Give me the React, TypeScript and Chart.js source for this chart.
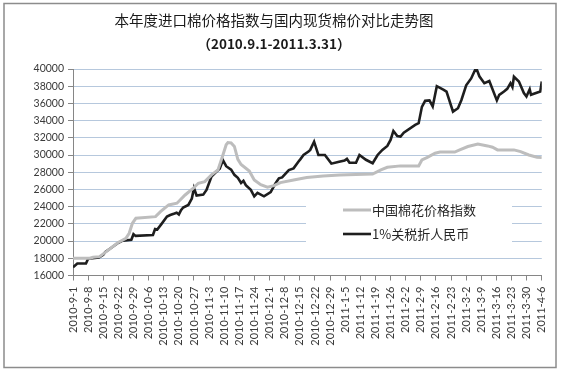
import React, { useEffect, useRef } from "react";
import { Chart, registerables } from "chart.js";

Chart.register(...registerables);

const titleText = "本年度进口棉价格指数与国内现货棉价对比走势图";
const subtitleText = "（2010.9.1-2011.3.31）";

const weekLabels = [
  "2010-9-1", "2010-9-8", "2010-9-15", "2010-9-22", "2010-9-29", "2010-10-6",
  "2010-10-13", "2010-10-20", "2010-10-27", "2010-11-3", "2010-11-10", "2010-11-17",
  "2010-11-24", "2010-12-1", "2010-12-8", "2010-12-15", "2010-12-22", "2010-12-29",
  "2011-1-5", "2011-1-12", "2011-1-19", "2011-1-26", "2011-2-2", "2011-2-9",
  "2011-2-16", "2011-2-23", "2011-3-2", "2011-3-9", "2011-3-16", "2011-3-23",
  "2011-3-30", "2011-4-6",
];

const yTicks = [16000, 18000, 20000, 22000, 24000, 26000, 28000, 30000, 32000, 34000, 36000, 38000, 40000];

// 中国棉花价格指数 (days since 2010-9-1, value)
const indexName = "中国棉花价格指数";
const indexDays = [0, 7.8, 9.3, 12.3, 15.4, 20.7, 24.5, 26, 27.5, 29.1, 38.2, 40.5, 44.3, 48.1, 51.9, 55.7, 58, 61, 64.1, 67.1, 69.4, 70.9, 71.7, 73.2, 74.7, 76.3, 77.8, 81.6, 83.9, 86.9, 90, 93, 96, 102.1, 108.2, 115.8, 123.4, 131, 138.7, 142.5, 145.5, 151.6, 160, 161.5, 163.8, 167.6, 169.9, 176.7, 179, 182.8, 187.4, 191.9, 194.2, 196.5, 204.1, 207.2, 211, 214.8, 217];
const indexValues = [18000, 18000, 18120, 18190, 18770, 19810, 20330, 20910, 22070, 22650, 22840, 23420, 24200, 24400, 25360, 26140, 26720, 26910, 27690, 28270, 30000, 31200, 31450, 31400, 31000, 29500, 28900, 28150, 27100, 26550, 26260, 26450, 26800, 27100, 27400, 27570, 27690, 27750, 27800, 28270, 28580, 28740, 28740, 29430, 29700, 30210, 30350, 30350, 30600, 30990, 31290, 31060, 30910, 30600, 30600, 30400, 30010, 29750, 29700];

// 1%关税折人民币 (days since 2010-9-1, value)
const tariffName = "1%关税折人民币";
const tariffDays = [0, 2, 6, 7, 12, 14, 15, 21, 23, 27, 28, 29, 37, 38, 39, 41, 43.5, 45, 47, 48, 49, 50, 51, 53.4, 55, 56, 57.2, 60.3, 61.8, 64.1, 66.3, 67.9, 69.4, 70.9, 73.2, 74.7, 76.3, 77.8, 78.9, 80, 82.3, 83.9, 85.4, 88.4, 91.5, 93.7, 95.3, 96.8, 99.9, 102.1, 104.4, 105.2, 106.7, 109, 109.8, 111.6, 113.6, 116.6, 119.6, 122.7, 125.7, 126.8, 128, 131, 132.6, 135.6, 138.7, 141, 143.2, 145.5, 147, 148.3, 150.1, 151.6, 153.1, 158.4, 160, 161.5, 163, 165, 166.5, 168.4, 171.4, 172.9, 175.9, 178.2, 179.8, 182, 184.3, 186.6, 188.1, 190.4, 192.7, 196.2, 197.3, 199.5, 201, 202.5, 203.4, 204.1, 206.4, 208.7, 209.9, 211.4, 212, 216.3, 217];
const tariffValues = [16950, 17400, 17400, 17950, 18100, 18400, 18750, 19800, 20050, 20150, 20800, 20600, 20700, 21400, 21350, 22000, 22850, 23030, 23200, 23300, 23100, 23600, 23900, 24200, 24950, 26150, 25300, 25400, 25950, 27500, 28050, 28400, 29400, 28700, 28300, 27700, 27350, 26750, 27000, 26500, 25950, 25200, 25600, 25200, 25700, 26700, 27300, 27400, 28250, 28450, 29250, 29500, 30000, 30400, 30600, 31550, 30000, 30000, 29000, 29200, 29350, 29550, 29100, 29100, 30010, 29450, 29050, 30010, 30600, 31060, 31760, 32800, 32200, 32150, 32600, 33500, 33700, 35600, 36300, 36350, 35650, 38000, 37600, 37380, 35050, 35440, 36400, 38100, 38900, 40150, 39150, 38350, 38600, 36350, 37000, 37380, 37700, 38350, 37900, 39100, 38550, 37200, 36800, 37650, 37000, 37380, 38540];

const W = 561;
const H = 373;

const framePlugin = {
  id: "frame",
  beforeDraw(chart: any) {
    const ctx = chart.ctx;
    ctx.save();
    ctx.fillStyle = "#ffffff";
    ctx.fillRect(0, 0, chart.width, chart.height);
    ctx.strokeStyle = "#8c8c8c";
    ctx.lineWidth = 1.5;
    ctx.strokeRect(4, 3.5, 552, 364);
    ctx.restore();
  },
};

const legendPlugin = {
  id: "innerLegend",
  beforeDatasetsDraw(chart: any) {
    const ctx = chart.ctx;
    const a = chart.chartArea;
    ctx.save();
    ctx.fillStyle = "#ffffff";
    ctx.fillRect(a.left + 233, 195, 206, 57);
    const rows = [210, 234];
    chart.data.datasets.forEach((ds: any, i: number) => {
      const y = rows[i];
      ctx.strokeStyle = ds.borderColor;
      ctx.lineWidth = ds.borderWidth;
      ctx.beginPath();
      ctx.moveTo(a.left + 270, y);
      ctx.lineTo(a.left + 298, y);
      ctx.stroke();
      ctx.fillStyle = "#262626";
      ctx.font = '13px "Noto Sans CJK SC"';
      ctx.textBaseline = "middle";
      ctx.textAlign = "left";
      ctx.fillText(ds.label, a.left + 299, y);
    });
    ctx.restore();
  },
};

export default function App() {
  const ref = useRef<HTMLCanvasElement | null>(null);

  useEffect(() => {
    if (!ref.current) return;
    const chart = new Chart(ref.current, {
      type: "line",
      data: {
        datasets: [
          {
            label: indexName,
            data: indexDays.map((d, i) => ({ x: d, y: indexValues[i] })),
            borderColor: "#bdbdbd",
            borderWidth: 3,
            pointRadius: 0,
            tension: 0,
          },
          {
            label: tariffName,
            data: tariffDays.map((d, i) => ({ x: d, y: tariffValues[i] })),
            borderColor: "#1e1e1e",
            borderWidth: 2.6,
            pointRadius: 0,
            tension: 0,
          },
        ],
      },
      options: {
        responsive: false,
        animation: false,
        devicePixelRatio: 1,
        layout: { padding: { left: 0, right: 13, top: 0, bottom: 0 } },
        plugins: {
          legend: { display: false },
          tooltip: { enabled: false },
          title: {
            display: true,
            text: titleText,
            color: "#1a1a1a",
            font: { family: '"Noto Sans CJK SC"', size: 14.5, weight: "normal", lineHeight: 1.2 },
            padding: { top: 12, bottom: 4 },
          },
          subtitle: {
            display: true,
            text: subtitleText,
            color: "#1a1a1a",
            font: { family: '"Noto Sans CJK SC"', size: 13.5, weight: "bold", lineHeight: 1.2 },
            padding: { top: 2.6, bottom: 16.8 },
          },
        },
        scales: {
          x: {
            type: "linear",
            min: 0,
            max: 217,
            afterFit(scale: any) {
              scale.height = H - 275.5;
            },
            ticks: {
              stepSize: 7,
              autoSkip: false,
              maxRotation: 90,
              minRotation: 90,
              padding: 6,
              color: "#3a3a3a",
              font: { family: "Lato", size: 11 },
              callback: (v: any) => weekLabels[Math.round(Number(v) / 7)] ?? "",
            },
            grid: {
              display: true,
              drawOnChartArea: false,
              drawTicks: true,
              tickLength: 5,
              color: "#868686",
            },
            border: { display: true, color: "#868686", width: 1 },
          },
          y: {
            type: "linear",
            min: yTicks[0],
            max: yTicks[yTicks.length - 1],
            afterFit(scale: any) {
              scale.width = 73;
            },
            afterBuildTicks(scale: any) {
              scale.ticks = yTicks.map((v) => ({ value: v }));
            },
            ticks: {
              padding: 4,
              color: "#3a3a3a",
              font: { family: "Lato", size: 10.5 },
              callback: (v: any) => String(v),
            },
            grid: {
              color: "#b6c8dd",
              tickColor: "#868686",
              tickLength: 5,
              lineWidth: 1,
            },
            border: { display: true, color: "#868686", width: 1 },
          },
        },
      },
      plugins: [framePlugin, legendPlugin],
    });
    return () => chart.destroy();
  }, []);

  return (
    <div style={{ position: "fixed", left: 0, top: 0, width: W, height: H, background: "#fff" }}>
      <canvas ref={ref} width={W} height={H} style={{ width: W, height: H, display: "block" }} />
    </div>
  );
}
